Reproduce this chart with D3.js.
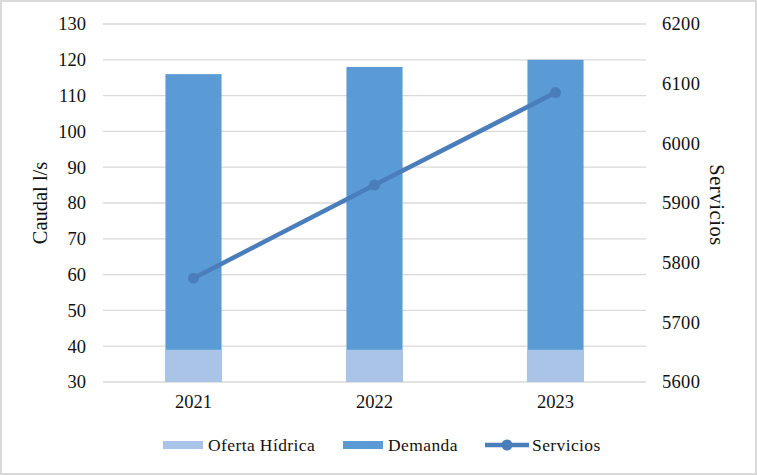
<!DOCTYPE html>
<html><head><meta charset="utf-8">
<script src="https://cdn.jsdelivr.net/npm/d3@7"></script>
<style>body{margin:0;background:#fff}svg{display:block}svg text{font-family:"Liberation Serif","Times New Roman",serif !important;fill:#111}</style>
</head><body><svg id="c" width="757" height="475"></svg>
<script>
const years = ["2021","2022","2023"];
const oferta = [39, 39, 39];
const demanda = [116, 118, 120];
const servicios = [5774, 5930, 6085];
const leftTicks = [30,40,50,60,70,80,90,100,110,120,130];
const rightTicks = [5600,5700,5800,5900,6000,6100,6200];

const svg = d3.select("#c");
const W = 757, H = 475;
const m = {l:103, r:111, t:24, b:93};
svg.append("rect").attr("x",1).attr("y",1).attr("width",W-2).attr("height",H-2)
  .attr("fill","#fff").attr("stroke","#d9d9d9").attr("stroke-width",2);

const x = d3.scaleBand().domain(years).range([m.l, W-m.r]).paddingInner(0.69).paddingOuter(0.345);
const yL = d3.scaleLinear().domain([30,130]).range([H-m.b, m.t]);
const yR = d3.scaleLinear().domain([5600,6200]).range([H-m.b, m.t]);

// grid
svg.append("g").selectAll("line").data(leftTicks).join("line")
  .attr("x1",m.l).attr("x2",W-m.r).attr("y1",d=>yL(d)).attr("y2",d=>yL(d))
  .attr("stroke","#d9d9d9").attr("stroke-width",1.3);

// bars
svg.append("g").selectAll("rect").data(years).join("rect")
  .attr("x",d=>x(d)).attr("width",x.bandwidth())
  .attr("y",(d,i)=>yL(demanda[i])).attr("height",(d,i)=>yL(30)-yL(demanda[i]))
  .attr("fill","#5b9bd5");
svg.append("g").selectAll("rect").data(years).join("rect")
  .attr("x",d=>x(d)).attr("width",x.bandwidth())
  .attr("y",(d,i)=>yL(oferta[i])).attr("height",(d,i)=>yL(30)-yL(oferta[i]))
  .attr("fill","#a9c4e7");

// line
const cx = d=>x(d)+x.bandwidth()/2;
const lineColor = "#4a7ebb";
svg.append("path").datum(years)
  .attr("d", d3.line().x(d=>cx(d)).y((d,i)=>yR(servicios[i])))
  .attr("fill","none").attr("stroke",lineColor).attr("stroke-width",4.5);
svg.append("g").selectAll("circle").data(years).join("circle")
  .attr("cx",d=>cx(d)).attr("cy",(d,i)=>yR(servicios[i])).attr("r",5.5).attr("fill",lineColor);

// axes
const axL = d3.axisLeft(yL).tickValues(leftTicks).tickSize(0).tickPadding(17);
const gL = svg.append("g").attr("transform",`translate(${m.l},0)`).call(axL);
const axR = d3.axisRight(yR).tickValues(rightTicks).tickFormat(d3.format("d")).tickSize(0).tickPadding(16);
const gR = svg.append("g").attr("transform",`translate(${W-m.r},0)`).call(axR);
const axB = d3.axisBottom(x).tickSize(0).tickPadding(13);
const gB = svg.append("g").attr("transform",`translate(0,${H-m.b})`).call(axB);
[gL,gR,gB].forEach(g=>{
  g.attr("font-family",null).attr("font-size",null);
  g.select(".domain").remove();
  g.selectAll("text").style("font-size","18.5px");
});
gR.selectAll("text").attr("letter-spacing","0.3");

// titles
svg.append("text").attr("transform",`translate(47,${(m.t+H-m.b)/2}) rotate(-90)`)
  .attr("text-anchor","middle").style("font-size","20.5px").text("Caudal l/s");
svg.append("text").attr("transform",`translate(710,${(m.t+H-m.b)/2+2}) rotate(90)`)
  .attr("text-anchor","middle").style("font-size","20.5px").attr("letter-spacing","0.6").text("Servicios");

// legend
const lg = svg.append("g").style("font-size","17.5px");
const ly = 445;
lg.append("rect").attr("x",163).attr("y",ly-4).attr("width",40).attr("height",8).attr("fill","#a9c4e7");
lg.append("text").attr("x",208).attr("y",ly).attr("dy","0.35em").attr("letter-spacing","0.4").text("Oferta Hídrica");
lg.append("rect").attr("x",343).attr("y",ly-4).attr("width",40).attr("height",8).attr("fill","#5b9bd5");
lg.append("text").attr("x",388).attr("y",ly).attr("dy","0.35em").attr("letter-spacing","0.4").text("Demanda");
lg.append("line").attr("x1",485).attr("x2",529).attr("y1",ly).attr("y2",ly).attr("stroke",lineColor).attr("stroke-width",4.5);
lg.append("circle").attr("cx",507).attr("cy",ly).attr("r",5.5).attr("fill",lineColor);
lg.append("text").attr("x",532).attr("y",ly).attr("dy","0.35em").attr("letter-spacing","0.4").text("Servicios");
</script></body></html>
